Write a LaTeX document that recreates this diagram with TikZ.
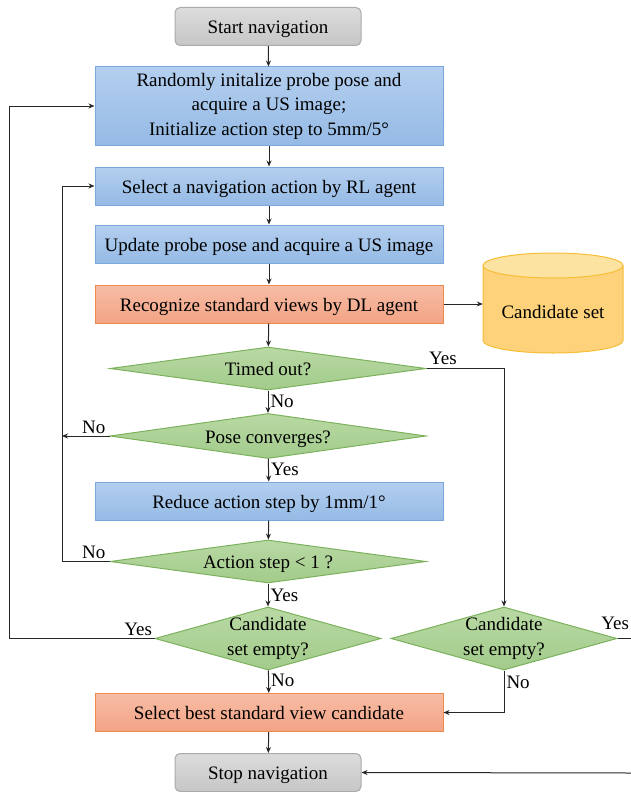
\documentclass[tikz,border=0pt]{standalone}
\usepackage{fontspec}
\setmainfont{Liberation Serif}
\newfontfamily\tnrfont{Liberation Serif}
\usetikzlibrary{shapes.geometric,arrows.meta,calc}
\definecolor{bluetop}{HTML}{B4CFEF}
\definecolor{bluebot}{HTML}{95BAE5}
\definecolor{blueline}{HTML}{7AA8DC}
\definecolor{ortop}{HTML}{F7BDA5}
\definecolor{orbot}{HTML}{F3A385}
\definecolor{orline}{HTML}{EE8A4E}
\definecolor{grtop}{HTML}{DCDCDC}
\definecolor{grbot}{HTML}{C6C6C6}
\definecolor{grline}{HTML}{ABABAB}
\definecolor{gntop}{HTML}{B9D9A4}
\definecolor{gnbot}{HTML}{A2CB8B}
\definecolor{gnline}{HTML}{7CB25D}
\definecolor{cytop}{HTML}{FDE3A2}
\definecolor{cybody}{HTML}{FDD27A}
\definecolor{cyline}{HTML}{F7BE36}
\definecolor{arrcol}{HTML}{262626}
\tikzset{
  txt/.style={font=\tnrfont\fontsize{19}{24.5}\selectfont, text=black},
  oneline/.style={text height=17pt, text depth=3pt},
  bluebox/.style={txt, rectangle, draw=blueline, line width=1pt, top color=bluetop, bottom color=bluebot, minimum width=348pt, minimum height=38pt, align=center, inner sep=0pt},
  orbox/.style={bluebox, draw=orline, top color=ortop, bottom color=orbot},
  termbox/.style={txt, oneline, rectangle, rounded corners=5pt, draw=grline, line width=1pt, top color=grtop, bottom color=grbot, minimum width=186pt, minimum height=38pt, inner sep=0pt},
  decision/.style={diamond, draw=gnline, line width=1pt, top color=gntop, bottom color=gnbot, inner sep=0pt},
  dlabel/.style={txt, align=center},
  arr/.style={draw=arrcol, line width=1pt, -{Stealth[length=6pt,width=5pt]}},
  ln/.style={draw=arrcol, line width=1pt},
  lab/.style={txt, inner sep=2pt}
}
\begin{document}
\begin{tikzpicture}[x=1pt,y=-1pt]
\useasboundingbox (0,0) rectangle (631,792);
% nodes
\node[termbox] (start) at (268,26.5) {Start navigation};
\node[bluebox, minimum height=78pt] (init) at (269,106) {Randomly initalize probe pose and\\acquire a US image;\\Initialize action step to 5mm/5\textdegree};
\node[bluebox, oneline] (sel) at (269,186) {Select a navigation action by RL agent};
\node[bluebox, oneline] (upd) at (269,244) {Update probe pose and acquire a US image};
\node[orbox, oneline] (rec) at (269,304) {Recognize standard views by DL agent};
% candidate set cylinder
\fill[cybody] (483,265.5) -- (483,340.5) arc[start angle=180, end angle=360, x radius=70pt, y radius=12.5pt] -- (623,265.5) arc[start angle=0, end angle=180, x radius=70pt, y radius=12.5pt] -- cycle;
\draw[cyline, line width=1pt] (483,265.5) -- (483,340.5) arc[start angle=180, end angle=360, x radius=70pt, y radius=12.5pt] -- (623,265.5);
\draw[cyline, line width=1pt, fill=cytop] (553,265.5) ellipse[x radius=70pt, y radius=12.5pt];
\node[txt, oneline, minimum width=140pt, minimum height=60pt, inner sep=0pt] (cand) at (553,311) {Candidate set};
\node[decision, minimum width=316pt, minimum height=43pt, label={[dlabel, oneline]center:Timed out?}] (timed) at (268,368.5) {};
\node[decision, minimum width=316pt, minimum height=45pt, label={[dlabel, oneline]center:Pose converges?}] (pose) at (268,436) {};
\node[bluebox, oneline] (red) at (269,501) {Reduce action step by 1mm/1\textdegree};
\node[decision, minimum width=316pt, minimum height=43pt, label={[dlabel, oneline]center:Action step < 1 ?}] (act) at (268,561.5) {};
\node[decision, minimum width=226pt, minimum height=63pt, label={[dlabel]center:Candidate\\set empty?}] (ce1) at (268,638.5) {};
\node[decision, minimum width=226pt, minimum height=63pt, label={[dlabel]center:Candidate\\set empty?}] (ce2) at (504,638.5) {};
\node[orbox, oneline] (best) at (269,712.5) {Select best standard view candidate};
\node[termbox] (stop) at (268,772.5) {Stop navigation};
% helper coordinates
\coordinate (lx) at (62,0);
\coordinate (ox) at (9,0);
\coordinate (rx) at (631,0);
\coordinate (rin) at (631,773);
% connectors
\draw[arr] (start) -- (init);
\draw[arr] (init) -- (sel);
\draw[arr] (sel) -- (upd);
\draw[arr] (upd) -- (rec);
\draw[arr] (rec.east) -- (rec.east -| cand.west);
\draw[arr] (rec) -- (timed);
\draw[arr] (timed) -- node[lab, right, pos=.5]{No} (pose);
\draw[arr] (pose) -- node[lab, right, pos=.45]{Yes} (red);
\draw[arr] (red) -- (act);
\draw[arr] (act) -- node[lab, right, pos=.5]{Yes} (ce1);
\draw[arr] (ce1) -- node[lab, right, pos=.45]{No} (best);
\draw[arr] (best) -- (stop);
\draw[arr] (pose.west) -- node[lab, above, pos=.33]{No} (pose.west -| lx);
\draw[arr] (act.west) -- node[lab, above, pos=.33]{No} (act.west -| lx) |- (sel.west);
\draw[arr] (ce1.west) node[lab, anchor=south east]{Yes} -- (ce1.west -| ox) |- (init.west);
\draw[arr] (timed.east) node[lab, anchor=south west, yshift=1pt]{Yes} -- (timed.east -| ce2.north) -- (ce2.north);
\draw[ln] (ce2.east) node[lab, anchor=south east, xshift=14pt, yshift=6pt]{Yes} -- (ce2.east -| rx);
\draw[arr] (ce2.south) -- node[lab, right, pos=.28]{No} (ce2.south |- best.east) -- (best.east);
\draw[arr] (rin) -- (stop.east);
\end{tikzpicture}
\end{document}
